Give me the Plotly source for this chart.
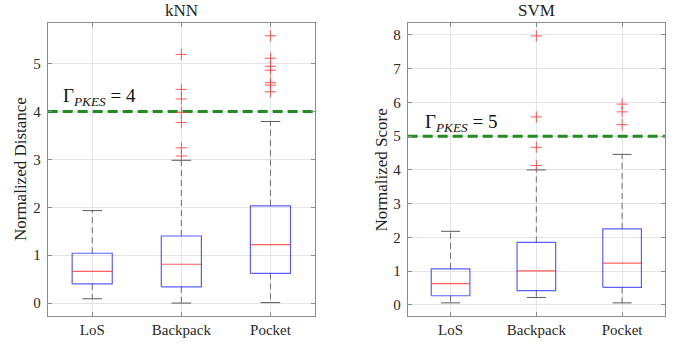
import plotly.graph_objects as go

# ---------------- data ----------------
categories = ["LoS", "Backpack", "Pocket"]

knn_lower = [0.09, 0.00, 0.01]
knn_q1 = [0.40, 0.34, 0.62]
knn_median = [0.66, 0.81, 1.22]
knn_q3 = [1.04, 1.40, 2.03]
knn_upper = [1.93, 2.98, 3.79]
knn_outliers = [
    [],
    [5.19, 4.46, 4.26, 3.98, 3.77, 3.24, 3.07],
    [5.58, 5.11, 4.94, 4.86, 4.60, 4.55, 4.41],
]
knn_threshold = 4

svm_lower = [0.06, 0.22, 0.06]
svm_q1 = [0.27, 0.42, 0.52]
svm_median = [0.63, 1.01, 1.24]
svm_q3 = [1.07, 1.85, 2.25]
svm_upper = [2.18, 4.00, 4.46]
svm_outliers = [
    [],
    [7.97, 5.57, 4.67, 4.13],
    [5.95, 5.72, 5.34],
]
svm_threshold = 5

knn_yticks = [0, 1, 2, 3, 4, 5]
svm_yticks = [0, 1, 2, 3, 4, 5, 6, 7, 8]

# ---------------- styling ----------------
FONT = "Liberation Serif, Times New Roman, serif"
BOX_HALF = 0.225
CAP_HALF = 0.11
BOX_COLOR = "rgba(40,40,255,0.75)"
MED_COLOR = "rgba(255,40,40,0.75)"
WHISK_COLOR = "rgb(110,110,110)"
CAP_COLOR = "rgb(90,90,90)"
OUT_COLOR = "rgba(255,60,60,0.85)"
THRESH_COLOR = "rgb(34,139,34)"

fig = go.Figure()


def add_boxes(xa, ya, lower, q1, med, q3, upper, outliers, thr):
    xs = [i + 1 for i in range(len(categories))]
    # threshold line
    fig.add_trace(go.Scatter(x=[0.5, len(categories) + 0.5], y=[thr, thr], mode="lines",
                             line=dict(color=THRESH_COLOR, width=3, dash="10px,5px"),
                             xaxis=xa, yaxis=ya, hoverinfo="skip", showlegend=False))
    for i, c in enumerate(xs):
        # whiskers
        for a, b in ((q3[i], upper[i]), (q1[i], lower[i])):
            fig.add_trace(go.Scatter(x=[c, c], y=[a, b], mode="lines",
                                     line=dict(color=WHISK_COLOR, width=1, dash="6px,4px"),
                                     xaxis=xa, yaxis=ya, hoverinfo="skip", showlegend=False))
        # caps
        for v in (upper[i], lower[i]):
            fig.add_trace(go.Scatter(x=[c - CAP_HALF, c + CAP_HALF], y=[v, v], mode="lines",
                                     line=dict(color=CAP_COLOR, width=1),
                                     xaxis=xa, yaxis=ya, hoverinfo="skip", showlegend=False))
        # box
        fig.add_trace(go.Scatter(
            x=[c - BOX_HALF, c + BOX_HALF, c + BOX_HALF, c - BOX_HALF, c - BOX_HALF],
            y=[q1[i], q1[i], q3[i], q3[i], q1[i]], mode="lines",
            line=dict(color=BOX_COLOR, width=1.2),
            xaxis=xa, yaxis=ya, hoverinfo="skip", showlegend=False))
        # median
        fig.add_trace(go.Scatter(x=[c - BOX_HALF, c + BOX_HALF], y=[med[i], med[i]], mode="lines",
                                 line=dict(color=MED_COLOR, width=1.2),
                                 xaxis=xa, yaxis=ya, hoverinfo="skip", showlegend=False))
        # outliers
        if outliers[i]:
            fig.add_trace(go.Scatter(x=[c] * len(outliers[i]), y=outliers[i], mode="markers",
                                     marker=dict(symbol="cross-thin-open", size=8, color=OUT_COLOR,
                                                 line=dict(color=OUT_COLOR, width=1)),
                                     xaxis=xa, yaxis=ya, hoverinfo="skip", showlegend=False))


add_boxes("x", "y", knn_lower, knn_q1, knn_median, knn_q3, knn_upper, knn_outliers, knn_threshold)
add_boxes("x2", "y2", svm_lower, svm_q1, svm_median, svm_q3, svm_upper, svm_outliers, svm_threshold)

axis_common = dict(
    showgrid=True, gridcolor="rgb(228,228,228)", gridwidth=1, automargin=False,
    zeroline=False, showline=True, linecolor="rgb(140,140,140)", linewidth=1,
    mirror="ticks", ticks="inside", ticklen=4, tickcolor="rgb(140,140,140)",
    tickfont=dict(family=FONT, size=15, color="rgb(40,40,40)"),
)

fig.update_layout(
    width=678, height=345,
    margin=dict(l=0, r=0, t=0, b=0, autoexpand=False),
    paper_bgcolor="white", plot_bgcolor="white",
    font=dict(family=FONT, color="rgb(40,40,40)"),
    xaxis=dict(domain=[0.0703, 0.4646], range=[0.5, 3.5], tickvals=[1, 2, 3],
               ticktext=categories, anchor="y", **axis_common),
    yaxis=dict(domain=[0.084, 0.934], range=[-0.27, 5.85], tickvals=knn_yticks, anchor="x",
               ticklabelstandoff=3, **axis_common),
    xaxis2=dict(domain=[0.6013, 0.9808], range=[0.5, 3.5], tickvals=[1, 2, 3],
                ticktext=categories, anchor="y2", **axis_common),
    yaxis2=dict(domain=[0.084, 0.934], range=[-0.33, 8.36], tickvals=svm_yticks, anchor="x2",
                ticklabelstandoff=3, **axis_common),
    annotations=[
        dict(text="kNN", x=0.5, y=1.0, xref="x domain", yref="y domain", yanchor="bottom",
             yshift=1, showarrow=False, font=dict(family=FONT, size=17, color="rgb(30,30,30)")),
        dict(text="SVM", x=0.5, y=1.0, xref="x2 domain", yref="y2 domain", yanchor="bottom",
             yshift=1, showarrow=False, font=dict(family=FONT, size=17, color="rgb(30,30,30)")),
        dict(text="Normalized Distance", x=20 / 678, y=0.51, xref="paper", yref="paper",
             textangle=-90, xanchor="center", yanchor="middle", showarrow=False,
             font=dict(family=FONT, size=17, color="rgb(30,30,30)")),
        dict(text="Normalized Score", x=381.7 / 678, y=0.508, xref="paper", yref="paper",
             textangle=-90, xanchor="center", yanchor="middle", showarrow=False,
             font=dict(family=FONT, size=17, color="rgb(30,30,30)")),
        dict(text="Γ<sub><i>PKES</i></sub> = %d" % knn_threshold, x=0.647, y=4.3, xref="x", yref="y",
             xanchor="left", yanchor="middle", showarrow=False,
             font=dict(family=FONT, size=19, color="rgb(20,20,20)")),
        dict(text="Γ<sub><i>PKES</i></sub> = %d" % svm_threshold, x=0.678, y=5.39, xref="x2", yref="y2",
             xanchor="left", yanchor="middle", showarrow=False,
             font=dict(family=FONT, size=19, color="rgb(20,20,20)")),
    ],
)

fig.write_html("out.html", config={"displayModeBar": False},
               post_script="document.body.style.margin='0px';")
